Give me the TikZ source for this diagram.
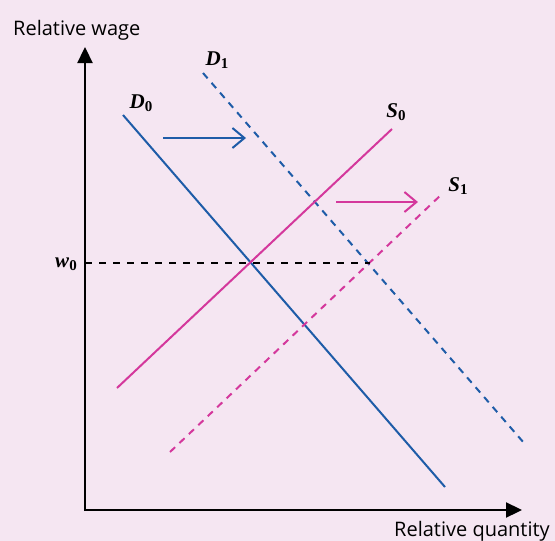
\documentclass[tikz,border=0pt]{standalone}
\usepackage{fontspec}
\setsansfont{Open Sans}
\newfontfamily\labelfont{Liberation Serif}
\usetikzlibrary{arrows.meta}

\definecolor{bgpink}{RGB}{245,230,242}
\definecolor{curveblue}{RGB}{30,92,168}
\definecolor{curvepink}{RGB}{212,56,156}

\newcommand{\curvename}[2]{\textit{#1}\raisebox{-0.3ex}{\fontsize{15}{15}\selectfont #2}}

\begin{document}
\begin{tikzpicture}[x=1pt, y=-1pt,
  axis/.style={line width=2.3pt, -{Triangle[length=16pt,width=15pt]}},
  demand/.style={curveblue, line width=2pt},
  supply/.style={curvepink, line width=2pt},
  shifted/.style={dash pattern=on 7pt off 6pt},
  shiftarrow/.style={line width=2pt, -{Straight Barb[length=12pt,width=20pt]}},
  curvelabel/.style={font=\labelfont\bfseries\fontsize{21}{21}\selectfont, inner sep=0pt},
  axislabel/.style={font=\sffamily\fontsize{20}{20}\selectfont, inner sep=0pt}]

  % -- Background --
  \fill[bgpink] (0,0) rectangle (555,541);
  \useasboundingbox (0,0) rectangle (555,541);

  % -- Axes --
  \coordinate (origin) at (85,510);
  \coordinate (ytop) at (85,47);
  \coordinate (xend) at (522,510);
  \draw[axis] ([yshift=-1.15pt]origin) -- (ytop);
  \draw[axis] (origin) -- (xend);
  \node[axislabel, anchor=base west] (ylab) at (13,35) {Relative wage};
  \node[axislabel, anchor=base west] (xlab) at (394,536) {Relative quantity};

  % -- Demand curves --
  \coordinate (D0a) at (123,115);
  \coordinate (D0b) at (445,487);
  \coordinate (D1a) at (203,73);
  \coordinate (D1b) at (524,443);
  \draw[demand] (D0a) -- (D0b);
  \draw[demand, shifted] (D1a) -- (D1b);
  \node[curvelabel] (D0) at (141,103) {\curvename{D}{0}};
  \node[curvelabel] (D1) at (217,60) {\curvename{D}{1}};

  % -- Supply curves --
  \coordinate (S0a) at (117,388);
  \coordinate (S0b) at (392,129);
  \coordinate (S1a) at (170,452);
  \coordinate (S1b) at (443,193);
  \draw[supply] (S0a) -- (S0b);
  \draw[supply, shifted] (S1a) -- (S1b);
  \node[curvelabel] (S0) at (396,112) {\curvename{S}{0}};
  \node[curvelabel] (S1) at (458,186) {\curvename{S}{1}};

  % -- Wage level --
  \coordinate (wend) at (370,263);
  \draw[line width=1.2pt, dash pattern=on 7pt off 7pt] (origin |- wend) -- (wend);
  \node[curvelabel] (w0) at (66,264) {\curvename{w}{0}};

  % -- Shift arrows --
  \coordinate (dsa) at (163,138);
  \coordinate (dsb) at (246,138);
  \coordinate (ssa) at (336,202);
  \coordinate (ssb) at (418,202);
  \draw[shiftarrow, curveblue] (dsa) -- (dsb);
  \draw[shiftarrow, curvepink] (ssa) -- (ssb);

\end{tikzpicture}
\end{document}
